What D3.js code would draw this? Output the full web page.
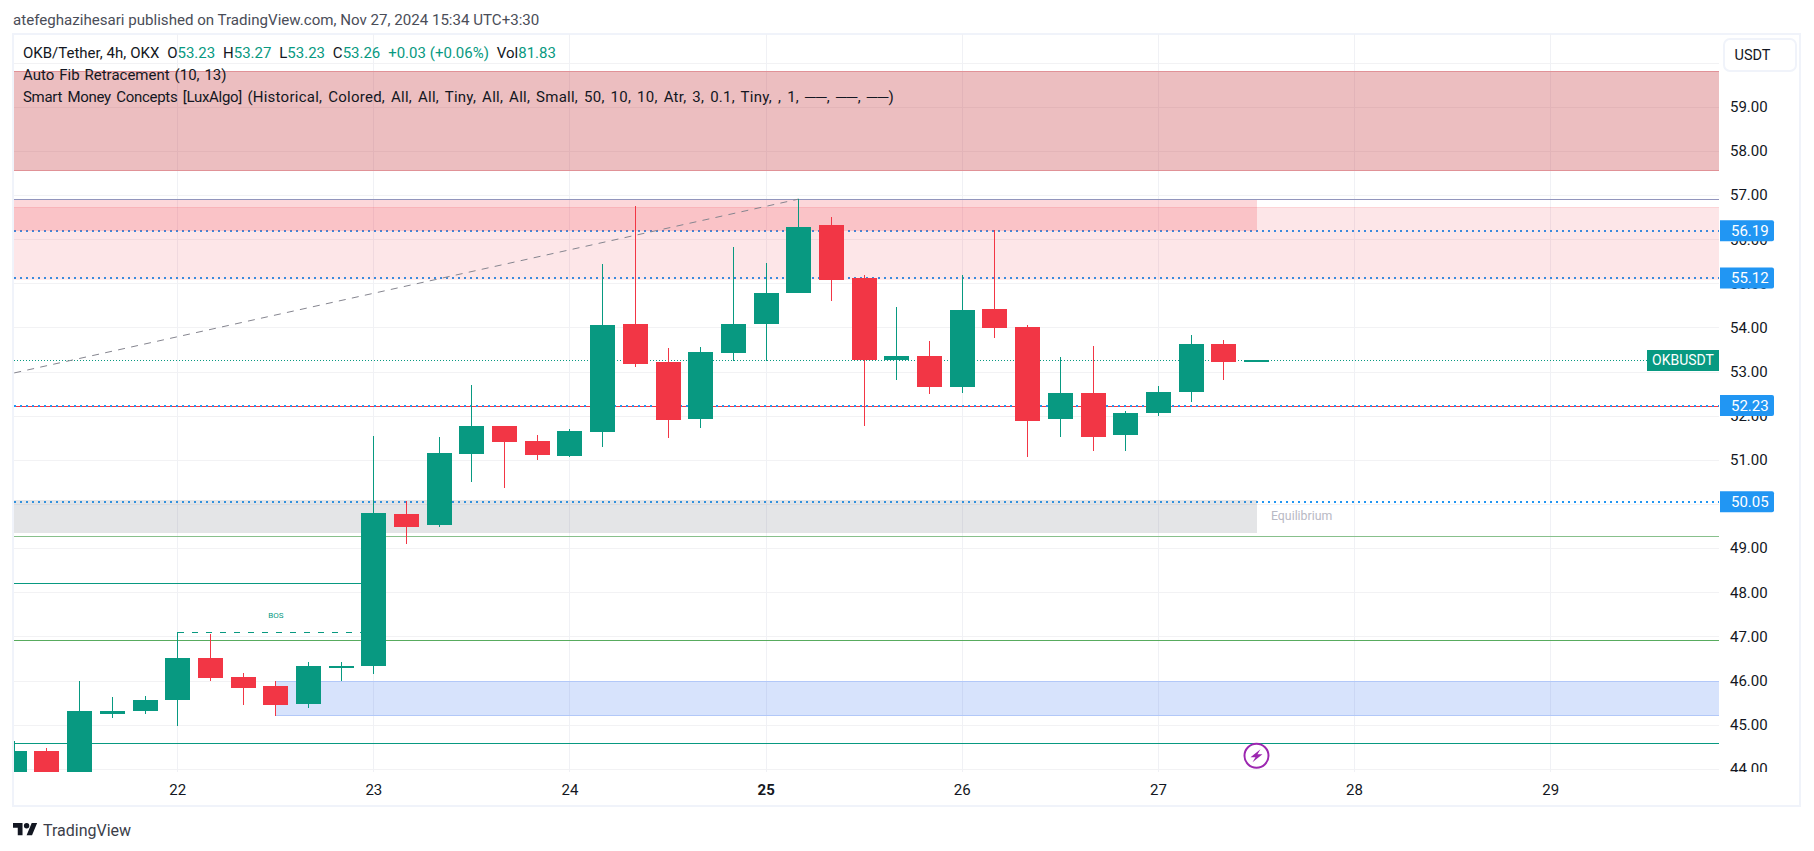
<!DOCTYPE html>
<html>
<head>
<meta charset="utf-8">
<title>OKB/Tether 4h</title>
<script src="https://cdn.jsdelivr.net/npm/d3@7"></script>
<style>
    html, body { margin: 0; background: #fff; overflow: hidden; }
    text { font-family: Roboto, sans-serif; }
    .axis .domain { display: none; }
</style>
</head>
<body>
<svg id="mainsvg" width="1814" height="851"></svg>
<script>
// candles are counted in 4h steps from the start of the 22nd, so 6 steps is one day
const candleSlots = [-5,-4,-3,-2,-1,0,1,2,3,4,5,6,7,8,9,10,11,12,13,14,15,16,17,18,19,20,21,22,23,24,25,26,27,28,29,30,31,32,33]
const opens  = [43.50,44.41,43.80,45.25,45.32,45.57,46.52,46.09,45.87,45.46,46.32,46.34,49.77,49.52,51.13,51.76,51.42,51.08,51.63,54.07,53.21,51.92,53.42,54.07,54.78,56.32,55.12,53.26,53.35,52.65,54.41,54.01,51.92,52.51,51.56,52.06,52.53,53.62,53.23]
const highs  = [44.62,44.48,46.00,45.62,45.64,47.11,47.05,46.18,45.98,46.41,46.41,51.54,50.06,51.51,52.69,51.76,51.56,51.69,55.44,56.75,53.53,53.55,55.82,55.46,56.91,56.50,55.19,54.46,53.69,55.19,56.21,54.05,53.33,53.58,52.10,52.67,53.83,53.71,53.27]
const lows   = [43.30,43.60,43.60,45.16,45.25,44.96,46.00,45.44,45.19,45.37,46.00,46.14,49.09,49.47,50.49,50.36,50.99,51.06,51.29,53.10,51.49,51.72,53.24,53.24,54.78,54.60,51.76,52.80,52.49,52.51,53.76,51.06,51.51,51.20,51.20,51.99,52.31,52.80,53.23]
const closes = [44.41,43.80,45.30,45.32,45.55,46.50,46.05,45.84,45.44,46.32,46.34,49.79,49.49,51.15,51.76,51.40,51.10,51.65,54.05,53.17,51.90,53.44,54.07,54.78,56.27,55.07,53.26,53.35,52.65,54.39,53.98,51.88,52.51,51.51,52.06,52.53,53.62,53.21,53.26]

const dayTicks = [0,6,12,18,24,30,36,42]
const dayLabels = ['22','23','24','25','26','27','28','29']
const priceTicks = [44,45,46,47,48,49,50,51,52,53,54,55,56,57,58,59]
const gridPrices = [44,45,46,47,48,49,50,51,52,53,54,55,56,57,58,59,60]
const blueLevels = [56.19,55.12,52.23,50.05]

const lastPrice = 53.26
const fibLine = [[-5,52.97],[19,56.91]]
const bos = {from:0, to:6, price:47.11}

const green = '#089981'
const red = '#f23645'

const svg = d3.select('#mainsvg')
const paneLeft = 14, paneRight = 1719, paneTop = 34, paneBottom = 772

const x = d3.scaleLinear().domain([0,42]).range([177.7,1550.7])
const y = d3.scaleLinear().domain([44,59]).range([768.8,106.8])
const yr = v => Math.round(y(v))

svg.append('defs').append('clipPath').attr('id','pane')
    .append('rect').attr('x',paneLeft).attr('y',paneTop).attr('width',paneRight-paneLeft).attr('height',paneBottom-paneTop)
svg.append('defs').append('clipPath').attr('id','axisclip')
    .append('rect').attr('x',-10).attr('y',paneTop).attr('width',80).attr('height',paneBottom-paneTop)

// header
svg.append('text').attr('x',13).attr('y',25).attr('font-size',15.1).attr('fill','#4a4d58')
    .text('atefeghazihesari published on TradingView.com, Nov 27, 2024 15:34 UTC+3:30')

// frame
svg.append('rect').attr('x',13).attr('y',34).attr('width',1787).attr('height',772)
    .attr('fill','#fff').attr('stroke','#f0f3fa').attr('stroke-width',2)

const g = svg.append('g').attr('clip-path','url(#pane)').attr('shape-rendering','crispEdges')

// grid
g.selectAll('.hgrid').data(gridPrices).join('line').attr('class','hgrid')
    .attr('x1',paneLeft).attr('x2',paneRight).attr('y1',d => yr(d)+.5).attr('y2',d => yr(d)+.5)
    .attr('stroke','#f2f2f4')
g.selectAll('.vgrid').data(dayTicks).join('line').attr('class','vgrid')
    .attr('x1',d => Math.floor(x(d))+.5).attr('x2',d => Math.floor(x(d))+.5)
    .attr('y1',paneTop).attr('y2',paneBottom).attr('stroke','#f0f1f5')

// horizontal structure lines
function hline(x1, x2, price, color) {
    g.append('line').attr('x1',x1).attr('x2',x2).attr('y1',yr(price)+.5).attr('y2',yr(price)+.5)
        .attr('stroke',color).attr('stroke-width',1)
}
hline(paneLeft,paneRight,52.21,red)

// dotted levels sit under the zones
g.selectAll('.level').data(blueLevels).join('line').attr('class','level')
    .attr('x1',paneLeft).attr('x2',paneRight).attr('y1',d => yr(d)).attr('y2',d => yr(d))
    .attr('stroke','#2196f3').attr('stroke-width',2).attr('stroke-dasharray','2 4')

// zones, edge lines only on top and bottom
function zone(x1, x2, hi, lo, fill, op, edge) {
    g.append('rect').attr('x',x1).attr('width',x2-x1)
        .attr('y',yr(hi)).attr('height',yr(lo)-yr(hi))
        .attr('fill',fill).attr('fill-opacity',op)
    if (edge) {
        hline(x1,x2,hi,edge)
        hline(x1,x2,lo,edge)
    }
}
const bandEnd = Math.floor(x(33))+1
zone(paneLeft,paneRight,59.80,57.57,'#c4353c',.32,'#e09297')
zone(paneLeft,paneRight,56.73,55.10,red,.125,'rgba(242,54,69,.1)')
zone(paneLeft,bandEnd,56.90,56.19,red,.2)
zone(paneLeft,bandEnd,50.08,49.35,'#787b86',.2)
zone(x(3),paneRight,45.98,45.21,'#2a6cf0',.19,'#b2c8f8')

hline(paneLeft,paneRight,56.90,'#9295bd')
hline(paneLeft,paneRight,49.28,'#88c08c')
hline(paneLeft,x(6),48.22,green)
hline(paneLeft,paneRight,46.91,'#58ab5e')
hline(paneLeft,paneRight,44.59,'#089981')

// last price line
g.append('line').attr('x1',paneLeft).attr('x2',paneRight).attr('y1',y(lastPrice)).attr('y2',y(lastPrice))
    .attr('stroke',green).attr('stroke-dasharray','1 2')

// fib trend line
g.append('path').datum(fibLine)
    .attr('d',d3.line().x(d => x(d[0])).y(d => y(d[1])))
    .attr('fill','none').attr('stroke','#85858f').attr('stroke-dasharray','7 6.3')
    .attr('shape-rendering','auto')

// BOS
g.append('line').attr('x1',x(bos.from)).attr('x2',x(bos.to)).attr('y1',yr(bos.price)+.5).attr('y2',yr(bos.price)+.5)
    .attr('stroke',green).attr('stroke-dasharray','6 8')
g.append('text').attr('x',x((bos.from+bos.to)/2)).attr('y',y(bos.price)-14)
    .attr('text-anchor','middle').attr('font-size',8).attr('fill',green).text('BOS')

// candles
const candles = candleSlots.map((s,i) => ({s, o:opens[i], h:highs[i], l:lows[i], c:closes[i]}))
const color = d => d.c >= d.o ? green : red
g.selectAll('.wick').data(candles).join('rect').attr('class','wick')
    .attr('x',d => Math.floor(x(d.s))).attr('width',1)
    .attr('y',d => yr(d.h)).attr('height',d => yr(d.l)-yr(d.h))
    .attr('fill',color)
g.selectAll('.body').data(candles).join('rect').attr('class','body')
    .attr('x',d => Math.floor(x(d.s))-12).attr('width',25)
    .attr('y',d => yr(Math.max(d.o,d.c)))
    .attr('height',d => Math.max(2,yr(Math.min(d.o,d.c))-yr(Math.max(d.o,d.c))))
    .attr('fill',color)

// Equilibrium label
svg.append('text').attr('x',1271).attr('y',520).attr('font-size',12.3).attr('fill','#b8b9c4').text('Equilibrium')

// lightning marker
const bolt = svg.append('g').attr('transform',`translate(${x(33)},755.7)`)
bolt.append('circle').attr('r',12).attr('fill','#fff').attr('stroke','#9c27b0').attr('stroke-width',2)
bolt.append('path').attr('d','M4 -6.5 L-6 1.5 L-1 1.5 L-4 6.5 L6 -1.5 L1 -1.5 Z').attr('fill','#9c27b0')

// price axis
const yAxis = d3.axisRight(y).tickValues(priceTicks).tickSize(0).tickPadding(0).tickFormat(d3.format('.2f'))
svg.append('g').attr('class','axis').attr('clip-path','url(#axisclip)').attr('transform','translate(1730,0)').call(yAxis)
    .call(a => a.selectAll('text').attr('font-size',15).attr('font-family','Roboto, sans-serif').attr('fill','#131722'))

// blue level labels over the axis
const tags = svg.selectAll('.tag').data(blueLevels).join('g').attr('class','tag')
    .attr('transform',d => `translate(1720,${y(d)})`)
tags.append('path').attr('d','M0 -10.5 H52 a2 2 0 0 1 2 2 V8.5 a2 2 0 0 1 -2 2 H0 Z').attr('fill','#2196f3')
tags.append('text').attr('x',11).attr('dy','0.35em').attr('font-size',15).attr('fill','#fff').text(d => d.toFixed(2))

// symbol tag
svg.append('rect').attr('x',1647).attr('y',350).attr('width',72).attr('height',21).attr('fill',green)
svg.append('text').attr('x',1683).attr('y',360.5).attr('dy','0.35em').attr('text-anchor','middle')
    .attr('font-size',14).attr('fill','#fff').text('OKBUSDT')

// time axis
const xAxis = d3.axisBottom(x).tickValues(dayTicks).tickSize(0).tickPadding(0).tickFormat((d,i) => dayLabels[i])
svg.append('g').attr('class','axis').attr('transform','translate(-0.5,784)').call(xAxis)
    .call(a => a.selectAll('text').attr('font-size',15).attr('font-family','Roboto, sans-serif').attr('fill','#131722')
        .attr('font-weight',d => d === 18 ? 700 : 400))

// currency button
svg.append('rect').attr('x',1724).attr('y',39).attr('width',72).attr('height',32).attr('rx',6)
    .attr('fill','#fff').attr('stroke','#f0f3fa').attr('stroke-width',2)
svg.append('text').attr('x',1752.5).attr('y',55).attr('dy','0.35em').attr('text-anchor','middle')
    .attr('font-size',14.5).attr('fill','#131722').text('USDT')

// legend
const legend = svg.append('g').attr('font-size',15)
const row1 = legend.append('text').attr('x',23).attr('y',53).attr('dy','0.35em').attr('fill','#131722')
const parts = [['OKB/Tether, 4h, OKX  O',0],['53.23',1],['  H',0],['53.27',1],['  L',0],['53.23',1],['  C',0],['53.26',1],['  +0.03 (+0.06%)  ',1],['Vol',0],['81.83',1]]
row1.attr('xml:space','preserve').style('white-space','pre').style('word-spacing','0.2px')
row1.selectAll('tspan').data(parts).join('tspan').attr('fill',d => d[1] ? green : '#131722').text(d => d[0])
legend.append('text').attr('x',23).attr('y',75).attr('dy','0.35em').attr('fill','#131722').style('word-spacing','1.2px')
    .text('Auto Fib Retracement (10, 13)')
const row3 = legend.append('text').attr('x',23).attr('y',96.5).attr('dy','0.35em').attr('fill','#131722').style('word-spacing','2px')
row3.append('tspan').style('letter-spacing','-0.3px').text('Smart Money Concepts [LuxAlgo] ')
row3.append('tspan').style('letter-spacing','0.25px')
    .text('(Historical, Colored, All, All, Tiny, All, All, Small, 50, 10, 10, Atr, 3, 0.1, Tiny, , 1, ──, ──, ──)')

// TradingView logo
svg.append('path').attr('transform','translate(13,820.3) scale(.68)')
    .attr('d','M14 22H7V11H0V4h14v18zM28 22h-8l7.5-18h8L28 22z').attr('fill','#131722')
svg.append('circle').attr('cx',13+20*.68).attr('cy',820.3+8*.68).attr('r',4*.68).attr('fill','#131722')
svg.append('text').attr('x',43).attr('y',830).attr('dy','0.35em').attr('font-size',16).attr('fill','#3b3e49').text('TradingView')
</script>
</body>
</html>
